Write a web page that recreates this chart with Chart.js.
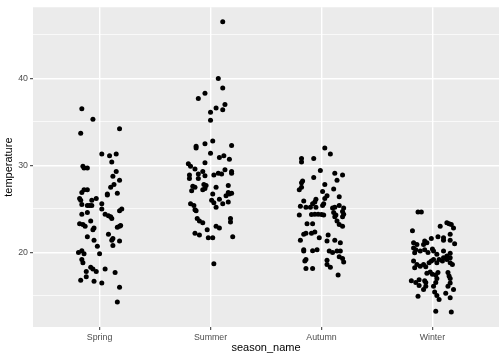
<!DOCTYPE html>
<html><head><meta charset="utf-8">
<script src="https://cdn.jsdelivr.net/npm/chart.js@4/dist/chart.umd.min.js"></script>
<style>html,body{margin:0;padding:0;background:#fff}canvas{display:block}</style>
</head><body>
<canvas id="c" width="504" height="360"></canvas>
<script>
const categories = ["Spring", "Summer", "Autumn", "Winter"];
const yMajorTicks = [20, 30, 40];
const yAllTicks = [15, 20, 25, 30, 35, 40, 45];

const springTemp = [36.5,35.3,34.2,33.7,31.3,31.1,31.3,30.4,29.9,29.7,29.7,29.3,28.75,28.3,27.8,27.5,27.2,27.2,26.9,26.7,26.6,26.8,26.2,26.0,26.2,26.0,25.5,25.4,25.4,25.4,25.6,25.0,25.0,24.8,24.4,24.6,24.4,24.2,24.1,23.9,23.3,23.2,23.0,23.6,22.8,22.6,23.1,23.0,22.9,22.1,21.6,21.4,21.3,20.8,21.8,21.4,20.7,20.0,20.2,19.85,19.85,19.2,18.8,18.3,18.1,17.8,17.8,18.1,17.7,17.2,16.8,16.7,16.5,16.0,14.3];
const springJitter = [-0.16,-0.06,0.18,-0.17,0.02,0.09,0.15,0.11,-0.15,-0.14,-0.11,0.15,0.12,0.18,0.13,0.10,-0.14,-0.11,-0.16,0.07,0.07,0.16,-0.18,-0.17,-0.03,-0.07,-0.16,-0.11,-0.09,-0.07,0.02,0.02,0.20,0.18,-0.16,-0.11,0.05,0.08,0.10,0.11,-0.18,-0.15,-0.13,-0.08,-0.05,-0.06,0.19,0.18,0.16,0.08,0.12,0.11,0.18,0.12,-0.11,-0.05,-0.02,-0.19,-0.16,-0.14,0.00,-0.16,-0.15,-0.08,-0.06,-0.03,-0.12,0.05,0.14,-0.12,-0.17,-0.05,0.02,0.18,0.16];

const summerTemp = [46.5,40.0,38.9,38.3,37.7,37.0,36.4,36.6,36.1,35.2,32.8,32.5,32.2,32.0,32.3,31.4,30.9,31.1,30.7,30.3,30.2,29.9,29.6,28.9,28.5,29.0,28.5,29.3,28.8,28.9,29.1,29.0,29.5,29.3,29.1,27.6,27.1,27.5,27.8,27.7,27.2,27.35,27.5,27.7,26.7,26.9,26.7,26.5,26.8,26.1,25.6,25.8,26.0,25.7,25.2,25.6,25.4,24.9,24.8,23.9,23.6,23.4,23.9,23.5,23.0,22.8,22.6,22.2,22.0,21.7,21.7,21.8,18.7];
const summerJitter = [0.11,0.07,0.11,-0.05,-0.11,0.13,0.11,0.05,0.00,0.00,0.02,-0.05,-0.13,-0.13,0.19,0.00,0.08,0.12,0.17,-0.05,-0.20,-0.18,-0.14,-0.19,-0.19,-0.11,-0.11,-0.07,-0.05,0.03,0.07,0.10,0.13,0.19,0.19,-0.16,-0.17,-0.14,-0.06,-0.04,-0.07,-0.05,0.05,0.16,0.02,0.16,0.17,0.14,0.19,0.08,0.11,0.16,0.01,0.03,0.05,-0.18,-0.15,-0.14,-0.13,-0.12,-0.10,-0.07,0.18,0.18,0.05,0.08,-0.03,-0.14,-0.10,-0.02,0.02,0.20,0.03];

const autumnTemp = [32.0,31.3,30.8,30.4,30.8,29.4,29.1,28.9,28.6,28.3,28.2,28.0,27.8,27.5,27.2,27.0,27.3,26.5,26.2,26.4,25.9,26.1,25.8,25.6,25.6,25.4,25.3,25.2,25.2,25.2,25.2,25.4,25.1,25.1,24.3,24.35,24.4,24.4,24.35,24.3,24.6,24.1,24.3,24.7,24.4,24.1,23.3,23.3,23.6,23.2,23.0,22.1,22.2,22.2,22.35,21.4,21.7,22.0,21.3,21.4,21.1,20.3,20.15,20.2,20.3,20.15,20.0,20.15,20.15,19.5,19.3,18.9,19.2,19.0,19.1,18.6,18.15,18.15,18.3,17.4];
const autumnJitter = [0.03,0.08,-0.18,-0.18,-0.07,-0.01,0.12,0.19,-0.07,0.14,-0.17,-0.18,0.03,-0.18,-0.20,0.01,0.11,0.05,0.03,0.16,-0.16,-0.05,-0.06,-0.08,0.02,0.01,-0.19,-0.14,-0.10,-0.05,0.12,0.16,0.20,0.10,-0.20,-0.09,-0.06,-0.03,0.00,0.02,0.11,0.12,0.13,0.19,0.20,0.19,-0.13,-0.08,0.14,0.16,0.19,-0.16,-0.14,-0.09,-0.06,-0.19,-0.02,0.06,0.05,0.12,0.17,-0.16,-0.16,-0.08,-0.04,0.07,0.10,0.14,0.17,0.16,0.19,0.20,-0.14,-0.15,0.05,0.05,-0.14,-0.08,0.08,0.15];

const winterTemp = [24.65,24.65,23.4,23.3,23.2,22.8,23.0,22.5,22.1,21.8,21.7,21.4,21.6,21.4,21.0,21.1,20.9,21.3,21.1,20.9,20.4,20.15,20.5,20.3,19.95,20.3,20.0,20.15,19.8,19.4,19.6,19.9,19.0,18.6,18.25,18.4,18.6,18.35,18.8,19.0,19.2,18.8,19.2,19.0,19.2,19.4,18.8,18.6,17.6,17.75,17.5,17.4,17.7,17.7,17.3,17.0,16.75,16.55,16.85,16.75,16.55,16.2,16.1,15.75,16.1,16.55,17.0,16.5,16.1,15.75,14.95,15.45,15.05,14.6,15.3,14.8,13.25,13.15,20.15];
const winterJitter = [-0.13,-0.10,0.13,0.15,0.17,0.19,0.07,-0.18,0.16,0.05,0.10,0.10,-0.01,0.16,0.20,-0.17,-0.14,-0.07,-0.05,-0.08,0.00,0.01,-0.17,-0.15,-0.16,-0.07,-0.04,-0.11,0.04,0.10,0.13,0.16,-0.17,-0.14,-0.16,-0.11,-0.08,-0.06,-0.03,-0.01,0.01,0.04,0.06,0.09,0.13,0.16,0.16,0.18,-0.05,-0.02,0.00,0.03,0.05,0.14,0.15,0.16,-0.19,-0.15,-0.12,-0.07,-0.06,-0.12,-0.06,-0.08,0.01,0.03,0.04,0.16,0.14,0.19,-0.13,0.02,0.04,0.06,0.12,0.16,0.03,0.17,0.10];

const seriesTemp = [springTemp, summerTemp, autumnTemp, winterTemp];
const seriesJitter = [springJitter, summerJitter, autumnJitter, winterJitter];

const points = [];
seriesTemp.forEach((temps, i) => {
  temps.forEach((t, j) => points.push({x: i + 1 + seriesJitter[i][j], y: t}));
});

const panelBg = {
  id: 'panelBg',
  beforeDraw(chart) {
    const {ctx, chartArea: a} = chart;
    ctx.save();
    ctx.fillStyle = '#EBEBEB';
    ctx.fillRect(a.left, a.top, a.right - a.left, a.bottom - a.top);
    ctx.restore();
  }
};

const tickFont = {family: "'Liberation Sans', Arial, sans-serif", size: 8.8};
const titleFont = {family: "'Liberation Sans', Arial, sans-serif", size: 11};

new Chart(document.getElementById('c'), {
  type: 'scatter',
  data: {datasets: [{
    data: points,
    backgroundColor: '#000000',
    borderWidth: 0,
    pointRadius: 2.5,
    pointHoverRadius: 2.5
  }]},
  options: {
    responsive: false,
    animation: false,
    devicePixelRatio: 1,
    layout: {padding: {left: 0, right: 5, top: 5, bottom: 0}},
    plugins: {legend: {display: false}, tooltip: {enabled: false}},
    scales: {
      x: {
        type: 'linear',
        min: 0.4, max: 4.6,
        afterBuildTicks: s => { s.ticks = categories.map((c, i) => ({value: i + 1})); },
        afterFit: s => { s.height = 33; },
        ticks: {
          callback: v => categories[Math.round(v) - 1],
          font: tickFont, color: '#4D4D4D', padding: 2, autoSkip: false, maxRotation: 0
        },
        grid: {color: '#FFFFFF', lineWidth: 1.4, tickColor: '#333333', tickLength: 3, tickWidth: 1},
        border: {display: false},
        title: {display: true, text: 'season_name', font: titleFont, color: '#000000', padding: {top: 0, bottom: 5}}
      },
      y: {
        type: 'linear',
        min: 11.43, max: 48.17,
        afterBuildTicks: s => { s.ticks = yAllTicks.map(v => ({value: v})); },
        afterFit: s => { s.width = 33; },
        ticks: {
          callback: v => yMajorTicks.includes(v) ? String(v) : '',
          font: tickFont, color: '#4D4D4D', padding: 2, autoSkip: false
        },
        grid: {
          color: '#FFFFFF',
          lineWidth: c => yMajorTicks.includes(c.tick && c.tick.value) ? 1.4 : 0.7,
          tickColor: c => yMajorTicks.includes(c.tick && c.tick.value) ? '#333333' : 'rgba(0,0,0,0)',
          tickLength: 3, tickWidth: 1
        },
        border: {display: false},
        title: {display: true, text: 'temperature', font: titleFont, color: '#000000', padding: {top: 2.4, bottom: 0}}
      }
    }
  },
  plugins: [panelBg]
});
</script>
</body></html>
